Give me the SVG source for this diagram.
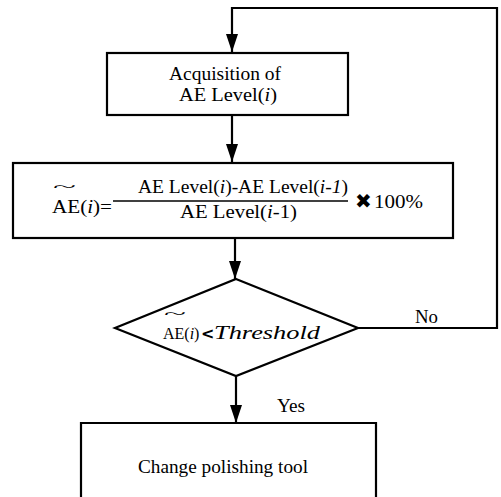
<svg xmlns="http://www.w3.org/2000/svg" width="501" height="497" viewBox="0 0 501 497">
<style>
.b{fill:none;stroke:#000;stroke-width:2.2}
.c{fill:none;stroke:#000;stroke-width:2.2}
.it{font-style:italic}
.sym{font-weight:bold}
</style>
<defs>
<marker id="ah" markerUnits="userSpaceOnUse" markerWidth="20" markerHeight="14" refX="18" refY="6" orient="auto">
<path d="M0,0 L18,6 L0,12 z" fill="#000"/>
</marker>
</defs>
<rect width="501" height="497" fill="#fff"/>
<g font-family="Liberation Serif, Times New Roman, serif" font-size="19" fill="#000">
<g id="connectors">
<line class="c" x1="232" y1="115" x2="232" y2="162" marker-end="url(#ah)"/>
<line class="c" x1="235" y1="238" x2="235" y2="279" marker-end="url(#ah)"/>
<line class="c" x1="236" y1="376" x2="236" y2="423" marker-end="url(#ah)"/>
<path class="c" d="M358,328 H497 V8 H232 V52" marker-end="url(#ah)"/>
<text x="415" y="323" textLength="23" lengthAdjust="spacingAndGlyphs">No</text>
<text x="277" y="412" textLength="28" lengthAdjust="spacingAndGlyphs">Yes</text>
</g>
<g id="acquisition">
<rect class="b" x="107" y="53" width="241" height="62"/>
<text x="169" y="80" textLength="112" lengthAdjust="spacingAndGlyphs">Acquisition of</text>
<text x="179" y="101" textLength="98" lengthAdjust="spacingAndGlyphs">AE Level(<tspan class="it">i</tspan>)</text>
</g>
<g id="formula">
<rect class="b" x="13" y="163" width="440" height="75"/>
<text x="53" y="192" font-size="14" textLength="23" lengthAdjust="spacingAndGlyphs">~</text>
<text x="52" y="213" textLength="60" lengthAdjust="spacingAndGlyphs">AE(<tspan class="it">i</tspan>)=</text>
<text x="138" y="193" textLength="210" lengthAdjust="spacingAndGlyphs">AE Level(<tspan class="it">i</tspan>)-AE Level(<tspan class="it">i-1</tspan>)</text>
<line x1="113" y1="201" x2="348" y2="201" stroke="#000" stroke-width="1.5"/>
<text x="180" y="218" textLength="117" lengthAdjust="spacingAndGlyphs">AE Level(<tspan class="it">i</tspan>-1)</text>
<text class="sym" x="355" y="208" font-size="20" font-family="DejaVu Sans, sans-serif">✖</text>
<text x="374" y="208" textLength="49" lengthAdjust="spacingAndGlyphs">100%</text>
</g>
<g id="decision">
<polygon class="b" points="236,279 358,328 236,376 115,328"/>
<text x="164" y="319" font-size="14" textLength="22" lengthAdjust="spacingAndGlyphs">~</text>
<text x="163" y="339" font-size="16">AE(<tspan class="it">i</tspan>)</text>
<text class="sym" x="201" y="339" font-size="16" font-family="DejaVu Sans, sans-serif">&lt;</text>
<text class="it" x="214" y="339" textLength="106" lengthAdjust="spacingAndGlyphs">Threshold</text>
</g>
<g id="change">
<path class="b" d="M81,500 V423 H376 V500"/>
<text x="138" y="473" textLength="170" lengthAdjust="spacingAndGlyphs">Change polishing tool</text>
</g>
</g>
</svg>
